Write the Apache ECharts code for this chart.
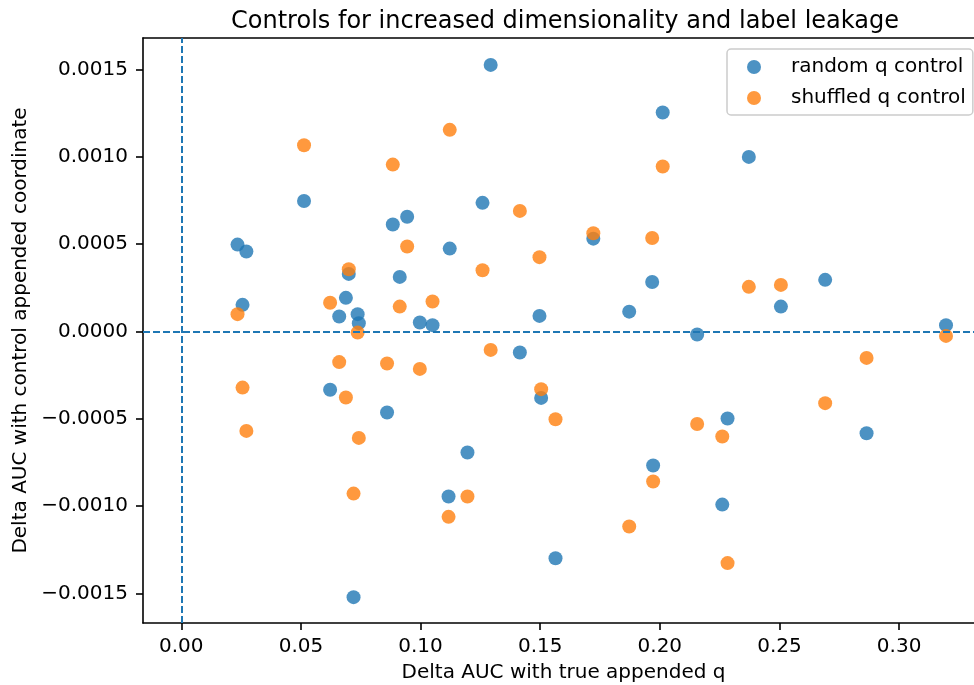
<!DOCTYPE html>
<html>
<head>
<meta charset="utf-8">
<script src="https://cdn.jsdelivr.net/npm/echarts@6/dist/echarts.min.js"></script>
<style>
  html, body { margin: 0; padding: 0; background: #fff; }
  #chart { width: 974px; height: 685px; }
</style>
</head>
<body>
<div id="chart"></div>
<script>
// Delta AUC with the true appended q (x) shared by both control runs
const deltaTrue = [
  0.0235, 0.0256, 0.0272, 0.0513, 0.0622, 0.0660, 0.0688, 0.0700, 0.0720, 0.0737,
  0.0742, 0.0860, 0.0884, 0.0913, 0.0944, 0.0997, 0.1050, 0.1117, 0.1122, 0.1196,
  0.1259, 0.1293, 0.1415, 0.1497, 0.1504, 0.1564, 0.1722, 0.1872, 0.1968, 0.1972,
  0.2012, 0.2156, 0.2261, 0.2283, 0.2372, 0.2506, 0.2691, 0.2864, 0.3196
];
// Delta AUC with a random q appended as the control coordinate
const randomControl = [
  0.000497, 0.000152, 0.000457, 0.000747, -0.000334, 0.000085, 0.000192, 0.000329, -0.001522, 0.0000985,
  0.000047, -0.000465, 0.000612, 0.000312, 0.000656, 0.0000504, 0.0000355, -0.000946, 0.000474, -0.000694,
  0.000736, 0.001526, -0.000121, 0.0000887, -0.000381, -0.001299, 0.000531, 0.000113, 0.000283, -0.000768,
  0.001253, -0.0000183, -0.000992, -0.000499, 0.000999, 0.000142, 0.000295, -0.000583, 0.0000355
];
// Delta AUC with a shuffled q appended as the control coordinate
const shuffledControl = [
  0.0000985, -0.000322, -0.000570, 0.001066, 0.000164, -0.000176, -0.000379, 0.000356, -0.000929, -0.0000069,
  -0.000610, -0.000184, 0.000955, 0.000142, 0.000486, -0.000215, 0.000171, -0.001062, 0.001154, -0.000946,
  0.000350, -0.000106, 0.000690, 0.000425, -0.000331, -0.000503, 0.000562, -0.001117, 0.000535, -0.000860,
  0.000944, -0.000530, -0.000602, -0.001327, 0.000255, 0.000266, -0.000411, -0.000152, -0.0000258
];
const xTicks = [0.00, 0.05, 0.10, 0.15, 0.20, 0.25, 0.30];
const yTicks = [-0.0015, -0.0010, -0.0005, 0.0, 0.0005, 0.0010, 0.0015];
const seriesNames = ['random q control', 'shuffled q control'];
const titleText = 'Controls for increased dimensionality and label leakage';
const xName = 'Delta AUC with true appended q';
const yName = 'Delta AUC with control appended coordinate';

const FONT = 'DejaVu Sans';
const BLUE = '#1f77b4';
const ORANGE = '#ff7f0e';

const pairs = (xs, ys) => xs.map((x, i) => [x, ys[i]]);
const minus = s => s.replace('-', '\u2212');

const chart = echarts.init(document.getElementById('chart'), null, { renderer: 'canvas' });

const lineStyle = { color: '#000', width: 1.6 };
const axisText = { fontFamily: FONT, fontSize: 20, color: '#000' };

chart.setOption({
  animation: false,
  backgroundColor: '#fff',
  title: {
    text: titleText,
    left: 560,
    top: 5,
    textAlign: 'center',
    textStyle: { fontFamily: FONT, fontSize: 24, fontWeight: 'normal', color: '#000' }
  },
  grid: { left: 143, top: 38, right: 0, bottom: 62, outerBoundsMode: 'none' },
  legend: {
    orient: 'vertical',
    left: 727,
    top: 49,
    padding: [8, 7, 7, 20],
    itemWidth: 14,
    itemHeight: 14,
    itemGap: 11,
    backgroundColor: 'rgba(255,255,255,0.8)',
    borderColor: '#cccccc',
    borderWidth: 1.5,
    borderRadius: 4,
    textStyle: Object.assign({}, axisText, { lineHeight: 20, padding: [0, 0, 0, 25] }),
    data: seriesNames
  },
  xAxis: [
    {
      type: 'value',
      min: -0.016,
      max: 0.3313,
      name: xName,
      nameLocation: 'middle',
      nameGap: 40,
      nameTextStyle: Object.assign({}, axisText, { padding: [0, 0, 0, 10] }),
      axisLine: { show: true, onZero: false, lineStyle: lineStyle },
      axisTick: { show: true, length: 7, lineStyle: lineStyle, customValues: xTicks },
      splitLine: { show: false },
      axisLabel: Object.assign({}, axisText, {
        customValues: xTicks,
        margin: 14,
        formatter: v => minus(v.toFixed(2))
      })
    },
    {
      // top frame line of the plot area
      type: 'value',
      position: 'top',
      min: -0.016,
      max: 0.3313,
      axisLine: { show: true, onZero: false, lineStyle: lineStyle },
      axisTick: { show: false },
      axisLabel: { show: false },
      splitLine: { show: false }
    }
  ],
  yAxis: {
    type: 'value',
    min: -0.00167,
    max: 0.00168,
    name: yName,
    nameLocation: 'middle',
    nameGap: 111,
    nameTextStyle: axisText,
    axisLine: { show: true, onZero: false, lineStyle: lineStyle },
    axisTick: { show: true, length: 7, lineStyle: lineStyle, customValues: yTicks },
    splitLine: { show: false },
    axisLabel: Object.assign({}, axisText, {
      customValues: yTicks,
      margin: 15,
      formatter: v => minus(v.toFixed(4))
    })
  },
  series: [
    {
      name: seriesNames[0],
      type: 'scatter',
      symbol: 'circle',
      symbolSize: 14,
      itemStyle: { color: BLUE, opacity: 0.8 },
      data: pairs(deltaTrue, randomControl),
      z: 2
    },
    {
      name: seriesNames[1],
      type: 'scatter',
      symbol: 'circle',
      symbolSize: 14,
      itemStyle: { color: ORANGE, opacity: 0.8 },
      data: pairs(deltaTrue, shuffledControl),
      z: 3,
      markLine: {
        silent: true,
        symbol: 'none',
        label: { show: false },
        lineStyle: { color: BLUE, width: 2, type: [7, 3] },
        data: [{ yAxis: 0 }, { xAxis: 0 }]
      }
    }
  ]
});
</script>
</body>
</html>
